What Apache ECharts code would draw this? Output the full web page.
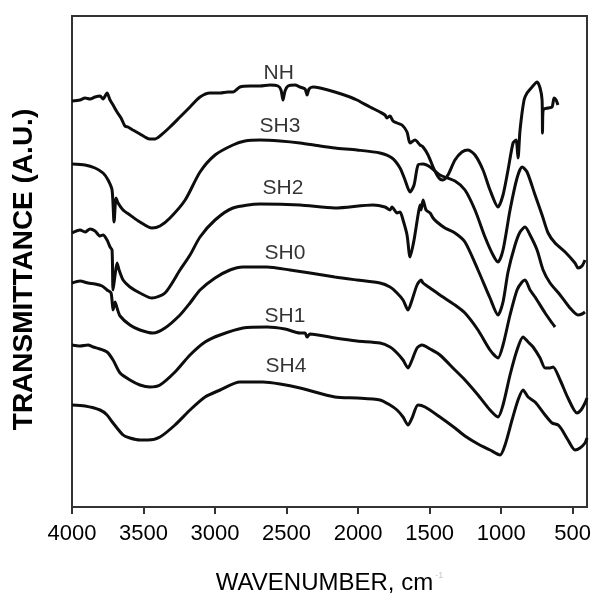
<!DOCTYPE html>
<html>
<head>
<meta charset="utf-8">
<script src="https://cdn.jsdelivr.net/npm/echarts@6/dist/echarts.min.js"></script>
<style>
  html, body { margin: 0; padding: 0; background: #fff; }
  #chart { width: 592px; height: 597px; }
</style>
</head>
<body>
<div id="chart"></div>
<script>
// FTIR spectra: [wavenumber (cm-1), transmittance (arbitrary units, offset per sample)]
const NH = [
  [4000,40.6],[3944,40.7],[3909,40.9],[3874,40.8],[3839,41.0],[3804,41.1],[3783,40.8],[3755,41.4],
  [3734,40.7],[3713,40.2],[3685,39.5],[3657,38.9],[3630,38.1],[3609,38.0],[3574,37.7],[3525,37.3],
  [3490,37.0],[3455,36.8],[3420,36.8],[3385,37.1],[3315,38.0],[3245,39.0],[3175,40.0],[3105,41.0],
  [3035,41.4],[2965,41.4],[2910,41.5],[2875,41.5],[2826,42.0],[2756,42.1],[2686,42.1],[2616,42.2],
  [2560,42.1],[2539,41.7],[2525,40.7],[2511,41.6],[2490,42.1],[2441,42.2],[2406,42.0],[2371,41.8],
  [2357,41.2],[2343,41.8],[2315,42.0],[2266,41.9],[2162,41.5],[2057,41.0],[2008,40.7],[1917,40.0],
  [1847,39.5],[1812,39.2],[1798,38.9],[1777,39.1],[1756,38.6],[1728,38.4],[1693,38.2],[1658,37.5],
  [1637,36.4],[1602,36.7],[1567,36.2],[1546,36.0],[1511,35.2],[1476,34.0],[1449,33.2],[1428,32.8],
  [1407,32.7],[1372,33.2],[1323,34.7],[1274,35.5],[1232,35.7],[1183,35.2],[1127,33.7],[1078,31.7],
  [1022,30.0],[987,31.2],[952,33.7],[917,36.4],[896,36.7],[882,34.9],[868,37.7],[840,40.7],
  [819,41.4],[784,42.0],[749,42.5],[728,41.9],[714,40.7],[711,37.4],[707,39.7],[672,39.9],
  [644,40.0],[630,40.9],[616,40.7],[603,40.2]
];
const SH3 = [
  [4000,34.3],[3909,34.2],[3839,33.9],[3783,33.4],[3748,32.7],[3720,31.7],[3706,28.5],[3692,30.9],
  [3678,30.4],[3643,29.7],[3595,29.2],[3525,28.5],[3441,27.9],[3385,28.1],[3315,28.9],[3209,30.7],
  [3105,33.5],[3000,35.2],[2875,36.2],[2791,36.6],[2686,36.7],[2546,36.6],[2406,36.4],[2266,36.1],
  [2162,35.9],[2008,35.7],[1847,35.4],[1763,34.9],[1707,33.9],[1672,32.7],[1637,31.5],[1609,32.2],
  [1581,34.2],[1546,34.3],[1497,34.0],[1428,33.2],[1323,32.6],[1253,31.7],[1183,29.7],[1113,27.0],
  [1057,25.2],[1022,24.5],[987,25.7],[938,29.7],[889,32.9],[854,34.0],[819,33.5],[763,31.2],
  [714,29.2],[672,27.4],[623,26.4],[553,25.5],[484,24.4],[463,23.9],[435,24.1],[414,24.7]
];
const SH2 = [
  [4000,27.4],[3944,27.7],[3909,27.5],[3874,27.8],[3839,27.6],[3804,27.1],[3783,27.2],[3755,26.7],
  [3734,26.0],[3720,25.7],[3713,21.7],[3699,23.2],[3685,24.4],[3671,23.7],[3643,22.7],[3595,22.0],
  [3525,21.4],[3441,20.9],[3350,21.4],[3245,23.7],[3175,25.2],[3105,27.0],[3000,28.7],[2875,29.9],
  [2686,30.3],[2406,30.2],[2162,29.9],[1896,30.2],[1812,30.0],[1777,29.7],[1763,30.0],[1728,29.4],
  [1707,29.5],[1686,28.7],[1658,27.2],[1637,25.0],[1609,26.7],[1581,29.2],[1567,30.2],[1560,29.7],
  [1546,30.7],[1525,29.7],[1497,29.4],[1476,28.9],[1449,28.5],[1393,27.9],[1323,27.4],[1253,26.5],
  [1162,23.7],[1078,20.9],[1022,19.2],[987,20.5],[952,23.5],[903,26.2],[868,27.5],[833,28.0],
  [798,27.2],[749,25.7],[707,23.7],[658,22.4],[588,21.2],[519,19.9],[463,19.2],[435,19.3],[414,19.5]
];
const SH0 = [
  [4000,22.4],[3944,22.6],[3888,22.4],[3839,22.3],[3790,22.1],[3755,21.7],[3727,21.4],[3713,19.7],
  [3699,20.5],[3685,19.9],[3664,19.1],[3595,18.2],[3525,17.7],[3434,17.4],[3350,17.9],[3245,19.2],
  [3175,20.4],[3105,21.7],[3000,22.9],[2896,23.7],[2805,24.0],[2637,24.0],[2476,23.7],[2336,23.4],
  [2162,23.0],[2008,22.7],[1847,22.4],[1777,22.0],[1728,21.4],[1686,20.7],[1651,19.7],[1623,20.7],
  [1588,22.2],[1560,22.7],[1546,22.4],[1497,21.9],[1428,21.2],[1323,20.2],[1253,19.4],[1162,17.7],
  [1078,15.7],[1022,14.9],[987,16.2],[938,19.2],[889,21.7],[854,22.5],[833,22.7],[798,21.7],
  [763,21.0],[693,19.4],[644,18.4],[623,18.0]
];
const SH1 = [
  [4000,16.2],[3944,16.1],[3888,16.2],[3853,16.0],[3804,15.8],[3755,15.5],[3713,14.7],[3664,13.4],
  [3595,12.7],[3525,12.2],[3455,12.0],[3385,12.2],[3280,13.5],[3175,15.2],[3070,16.5],[2965,17.2],
  [2805,17.9],[2637,18.0],[2511,17.8],[2406,17.4],[2371,17.4],[2357,17.0],[2336,17.3],[2162,16.9],
  [2008,16.6],[1847,16.4],[1777,16.0],[1728,15.4],[1686,14.7],[1651,13.9],[1623,14.7],[1588,15.9],
  [1553,16.2],[1497,15.8],[1428,15.2],[1323,13.7],[1253,12.7],[1162,11.2],[1078,9.7],[1022,9.0],
  [987,10.2],[938,13.2],[889,15.7],[847,17.0],[812,16.5],[777,16.0],[728,14.9],[693,13.9],
  [658,13.9],[637,14.0],[588,12.7],[533,10.9],[470,9.4],[442,9.7],[414,10.4],[400,10.9]
];
const SH4 = [
  [4000,10.2],[3909,10.1],[3804,9.7],[3755,9.2],[3713,8.4],[3643,7.2],[3595,6.9],[3525,6.7],
  [3469,6.7],[3385,7.0],[3280,8.2],[3175,9.7],[3070,11.0],[2965,11.7],[2826,12.5],[2665,12.5],
  [2546,12.3],[2406,11.9],[2162,11.0],[2008,10.9],[1847,10.7],[1777,10.2],[1728,9.7],[1686,9.0],
  [1651,8.2],[1623,8.9],[1581,10.2],[1532,10.0],[1428,9.0],[1323,7.9],[1253,7.1],[1162,6.3],
  [1078,5.7],[1008,5.2],[973,6.2],[924,8.7],[882,10.7],[847,11.7],[812,11.0],[763,10.5],
  [693,9.2],[644,8.4],[602,8.2],[574,7.7],[533,6.7],[484,5.7],[449,5.9],[414,6.4],[400,6.9]
];

const sampleNames = ['NH', 'SH3', 'SH2', 'SH0', 'SH1', 'SH4'];
const spectra = [NH, SH3, SH2, SH0, SH1, SH4];
// where each sample's name sits: [wavenumber, transmittance]
const labelPositions = [[2555, 43.4], [2546, 38.1], [2525, 31.9], [2511, 25.4], [2511, 19.1], [2504, 14.1]];
const xTicks = [4000, 3500, 3000, 2500, 2000, 1500, 1000, 500];

const ink = '#000';
const font = 'Liberation Sans, Arial, sans-serif';
const chart = echarts.init(document.getElementById('chart'), null, { renderer: 'canvas' });

const lineSeries = spectra.map((d, i) => ({
  name: sampleNames[i],
  type: 'line',
  data: d,
  showSymbol: false,
  smooth: 0.25,
  lineStyle: { color: '#0d0d0d', width: 3 },
  silent: true,
  z: 3
}));

const labelSeries = {
  type: 'scatter',
  symbolSize: 0,
  silent: true,
  data: labelPositions.map((p, i) => ({ value: p, name: sampleNames[i] })),
  label: {
    show: true,
    position: 'inside',
    formatter: p => p.name,
    fontFamily: font,
    fontSize: 21,
    color: ink,
    textBorderWidth: 0
  },
  z: 4
};

chart.setOption({
  animation: false,
  backgroundColor: '#fff',
  grid: {
    left: 72, right: 5, top: 16, bottom: 90,
    outerBoundsMode: 'none',
    containLabel: false,
    show: true, borderColor: '#333', borderWidth: 2, backgroundColor: 'transparent'
  },
  xAxis: {
    type: 'value',
    inverse: true,
    min: 400,
    max: 4000,
    name: '{t|WAVENUMBER, cm}{s|-1}',
    nameLocation: 'middle',
    nameGap: 64,
    nameTextStyle: {
      rich: {
        t: { fontFamily: font, fontSize: 24, color: ink },
        s: { fontFamily: font, fontSize: 9, color: '#c8c8c8', padding: [0, 0, 14, 2] }
      }
    },
    axisLine: { show: true, lineStyle: { color: '#333', width: 2 } },
    axisTick: { show: true, inside: false, length: 7, customValues: xTicks, lineStyle: { color: '#333', width: 2 } },
    axisLabel: {
      customValues: xTicks,
      formatter: v => String(v),
      margin: 16,
      fontFamily: font,
      fontSize: 22,
      color: ink
    },
    splitLine: { show: false }
  },
  yAxis: {
    type: 'value',
    min: 0,
    max: 49.1,
    name: 'TRANSMITTANCE (A.U.)',
    nameLocation: 'middle',
    nameGap: 34,
    nameRotate: 90,
    nameTextStyle: {
      fontFamily: font,
      fontSize: 28,
      fontWeight: 'bold',
      color: ink,
      padding: [0, 16, 0, 0]
    },
    axisLine: { show: false },
    axisTick: { show: false },
    axisLabel: { show: false },
    splitLine: { show: false }
  },
  series: [...lineSeries, labelSeries]
});
</script>
</body>
</html>
